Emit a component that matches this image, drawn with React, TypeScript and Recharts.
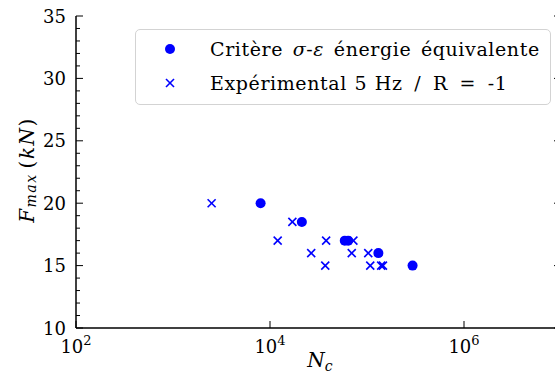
import React from 'react';
import { ScatterChart, Scatter, XAxis, YAxis } from 'recharts';

// N_c (cycles) and F_max (kN)
const nCritere = [8000, 21300, 59000, 64000, 131000, 295000];
const fCritere = [20, 18.5, 17, 17, 16, 15];

const nExp = [2500, 12000, 17000, 26600, 37100, 37900, 69600, 72400, 103000, 108000, 140000, 146000];
const fExp = [20, 17, 18.5, 16, 15, 17, 16, 17, 16, 15, 15, 15];

const xTicks = [100, 10000, 1000000];
const xExp = ['2', '4', '6'];
const yMajor = [10, 15, 20, 25, 30, 35];
const yTicks = Array.from({ length: 26 }, (_, i) => 10 + i);

const critere = nCritere.map((n, i) => ({ n, f: fCritere[i] }));
const exp = nExp.map((n, i) => ({ n, f: fExp[i] }));

const FONT = '"DejaVu Serif", serif';
const BLUE = '#0000ff';

const Dot = ({ cx, cy }: any) => <circle cx={cx} cy={cy} r={5} fill={BLUE} />;
const Cross = ({ cx, cy }: any) => (
  <g stroke={BLUE} strokeWidth={1.6}>
    <line x1={cx - 4} y1={cy - 4} x2={cx + 4} y2={cy + 4} />
    <line x1={cx - 4} y1={cy + 4} x2={cx + 4} y2={cy - 4} />
  </g>
);

const YTickLeft = ({ x, y, payload }: any) => {
  const major = yMajor.includes(payload.value);
  return (
    <g>
      <line x1={x} x2={x + (major ? 7 : 4)} y1={y} y2={y} stroke="#000" strokeWidth={1} />
      {major && (
        <text x={x - 10} y={y} textAnchor="end" dominantBaseline="central" fontSize={18} fontFamily={FONT} fill="#000">
          {payload.value}
        </text>
      )}
    </g>
  );
};

const YTickRight = ({ x, y, payload }: any) => {
  const major = yMajor.includes(payload.value);
  return <line x1={x} x2={x - (major ? 7 : 4)} y1={y} y2={y} stroke="#000" strokeWidth={1} />;
};

const XTickBottom = ({ x, y, index }: any) => (
  <g>
    <line x1={x} x2={x} y1={y} y2={y - 7} stroke="#000" strokeWidth={1} />
    <text x={x} y={y + 25} textAnchor="middle" fontSize={18} fontFamily={FONT} fill="#000">
      10
      <tspan dy={-8} fontSize={13}>{xExp[index] ?? ''}</tspan>
    </text>
  </g>
);

const XTickTop = ({ x, y }: any) => <line x1={x} x2={x} y1={y} y2={y + 7} stroke="#000" strokeWidth={1} />;

const YLabel = ({ viewBox }: any) => {
  const cx = viewBox.x + 27;
  const cy = viewBox.y + viewBox.height / 2 - 2;
  return (
    <text
      x={cx}
      y={cy}
      transform={`rotate(-90 ${cx} ${cy})`}
      textAnchor="middle"
      dominantBaseline="central"
      fontSize={20}
      letterSpacing={1.5}
      fontFamily={FONT}
      fill="#000"
    >
      <tspan fontStyle="italic">F</tspan>
      <tspan fontStyle="italic" fontSize={14} dy={4}>max</tspan>
      <tspan dy={-4} dx={5}>(</tspan>
      <tspan fontStyle="italic">kN</tspan>
      <tspan>)</tspan>
    </text>
  );
};

const XLabel = ({ viewBox }: any) => (
  <text x={viewBox.x + 244} y={viewBox.y + 39} textAnchor="middle" fontSize={20} fontFamily={FONT} fill="#000">
    <tspan fontStyle="italic">N</tspan>
    <tspan fontStyle="italic" fontSize={14} dy={4}>c</tspan>
  </text>
);

const LegendBox = () => (
  <div
    style={{
      position: 'absolute',
      left: 135,
      top: 29,
      width: 416,
      height: 76,
      boxSizing: 'border-box',
      border: '1.5px solid #d3d3d3',
      borderRadius: 5,
      background: 'rgba(255,255,255,0.8)',
      padding: '2px 0 0 24px',
      fontFamily: FONT,
      fontSize: 19,
      letterSpacing: 0.6,
      wordSpacing: 3,
      color: '#000',
      lineHeight: '34px',
      whiteSpace: 'nowrap',
    }}
  >
    <div style={{ display: 'flex', alignItems: 'center' }}>
      <svg width={20} height={20} style={{ marginRight: 30 }}>
        <circle cx={10} cy={10} r={5} fill={BLUE} />
      </svg>
      <span>
        Critère <i>σ</i>-<i>ε</i> énergie équivalente
      </span>
    </div>
    <div style={{ display: 'flex', alignItems: 'center' }}>
      <svg width={20} height={20} style={{ marginRight: 30 }}>
        <g stroke={BLUE} strokeWidth={1.6}>
          <line x1={6} y1={6} x2={14} y2={14} />
          <line x1={6} y1={14} x2={14} y2={6} />
        </g>
      </svg>
      <span style={{ wordSpacing: 1 }}>
        Expérimental 5 Hz <span style={{ margin: '0 4px' }}>/</span> R <span style={{ margin: '0 4px' }}>=</span> -1
      </span>
    </div>
  </div>
);

export default function App() {
  return (
    <div style={{ position: 'absolute', left: 0, top: 0, width: 555, height: 378, overflow: 'hidden', background: '#fff' }}>
      <ScatterChart width={570} height={378} margin={{ top: 16, right: 0, left: 0, bottom: 0 }}>
        <XAxis
          xAxisId="b"
          dataKey="n"
          type="number"
          scale="log"
          domain={[100, 10000000]}
          allowDataOverflow
          ticks={xTicks}
          interval={0}
          tickSize={0}
          tickMargin={0}
          height={50}
          tick={<XTickBottom />}
          axisLine={{ stroke: '#000', strokeWidth: 1.5 }}
          label={<XLabel />}
        />
        <XAxis
          xAxisId="t"
          orientation="top"
          dataKey="n"
          type="number"
          scale="log"
          domain={[100, 10000000]}
          allowDataOverflow
          ticks={xTicks}
          interval={0}
          tickSize={0}
          tickMargin={0}
          height={0}
          tick={<XTickTop />}
          axisLine={{ stroke: '#000', strokeWidth: 1.5 }}
        />
        <YAxis
          yAxisId="l"
          dataKey="f"
          type="number"
          domain={[10, 35]}
          allowDataOverflow
          ticks={yTicks}
          interval={0}
          tickSize={0}
          tickMargin={0}
          width={76}
          tick={<YTickLeft />}
          axisLine={{ stroke: '#000', strokeWidth: 1.5 }}
          label={<YLabel />}
        />
        <YAxis
          yAxisId="r"
          orientation="right"
          dataKey="f"
          type="number"
          domain={[10, 35]}
          allowDataOverflow
          ticks={yTicks}
          interval={0}
          tickSize={0}
          tickMargin={0}
          width={9}
          tick={<YTickRight />}
          axisLine={{ stroke: '#000', strokeWidth: 1.5 }}
        />
        <Scatter name="critere" data={critere} xAxisId="b" yAxisId="l" fill={BLUE} shape={<Dot />} isAnimationActive={false} />
        <Scatter name="exp" data={exp} xAxisId="b" yAxisId="l" fill={BLUE} shape={<Cross />} isAnimationActive={false} />
      </ScatterChart>
      <LegendBox />
    </div>
  );
}
